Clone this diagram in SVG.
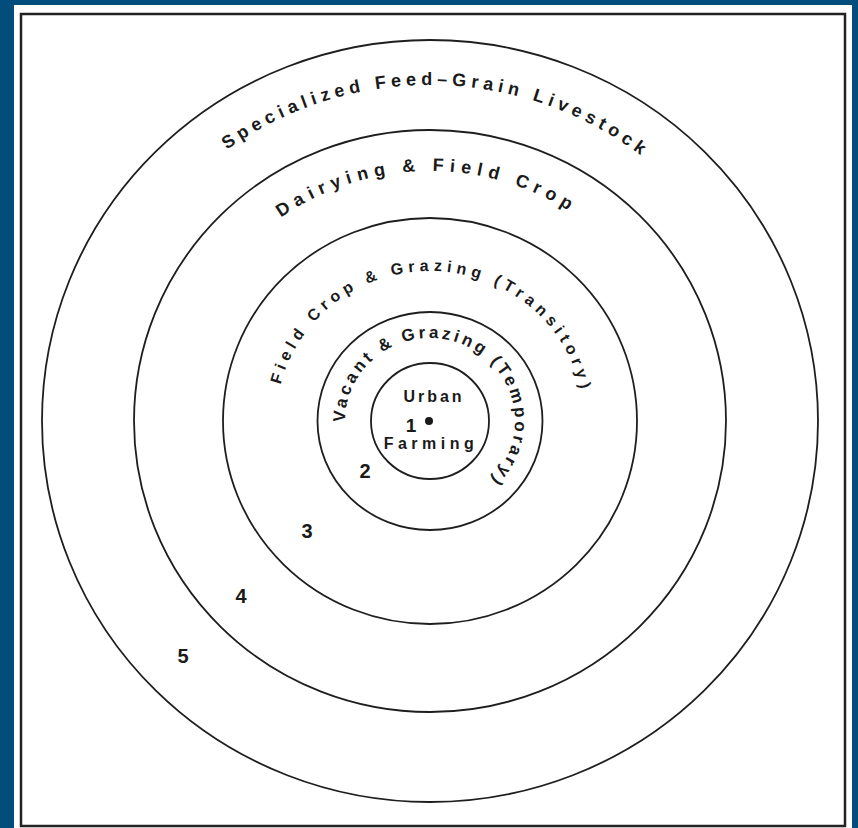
<svg xmlns="http://www.w3.org/2000/svg" xmlns:xlink="http://www.w3.org/1999/xlink" width="858" height="828" viewBox="0 0 858 828">
<style>
.ring{fill:none;stroke:#1e1e1e;stroke-width:1.8}
.lbl{font-family:"Liberation Sans",Arial,sans-serif;font-weight:bold;fill:#1a1a1a}
.num{font-family:"Liberation Sans",Arial,sans-serif;font-weight:bold;fill:#1a1a1a;font-size:20px;text-anchor:middle}
</style>
<defs>
<path id="arc5" d="M84.1,413.9 A346,340 0 0 1 775.9,428.1"/>
<path id="arc4" d="M174,424.5 A256,250 0 0 1 686,417.5"/>
<path id="arc3" d="M349,548.5 A154,150 0 1 1 502.9,553.1"/>
<path id="arc2" d="M362.6,471.5 A85,83 0 1 1 441.1,503.3"/>
</defs>
<rect x="0" y="0" width="858" height="828" fill="#034d7c"/>
<rect x="14" y="5" width="838" height="823" fill="#ffffff"/>
<rect id="frame" x="21" y="14" width="824" height="812" fill="none" stroke="#222" stroke-width="2.5"/>
<g id="zone5">
<ellipse class="ring" cx="430" cy="421" rx="388" ry="381"/>
<text class="lbl" font-size="18" letter-spacing="4.9"><textPath xlink:href="#arc5" href="#arc5" startOffset="50%" text-anchor="middle">Specialized Feed–Grain Livestock</textPath></text>
<text class="num" x="183" y="663">5</text>
</g>
<g id="zone4">
<ellipse class="ring" cx="430" cy="421" rx="296" ry="291"/>
<text class="lbl" font-size="18" letter-spacing="6"><textPath xlink:href="#arc4" href="#arc4" startOffset="50%" text-anchor="middle">Dairying &amp; Field Crop</textPath></text>
<text class="num" x="241" y="603">4</text>
</g>
<g id="zone3">
<ellipse class="ring" cx="430" cy="421" rx="207" ry="203"/>
<text class="lbl" font-size="16" letter-spacing="4.9"><textPath xlink:href="#arc3" href="#arc3" startOffset="50%" text-anchor="middle">Field Crop &amp; Grazing (Transitory)</textPath></text>
<text class="num" x="307" y="538">3</text>
</g>
<g id="zone2">
<ellipse class="ring" cx="430" cy="421" rx="112.5" ry="109"/>
<text class="lbl" font-size="17" letter-spacing="3.2"><textPath xlink:href="#arc2" href="#arc2" startOffset="50%" text-anchor="middle">Vacant &amp; Grazing (Temporary)</textPath></text>
<text class="num" x="365" y="478">2</text>
</g>
<g id="zone1">
<ellipse class="ring" cx="430" cy="421" rx="59" ry="58"/>
<text class="lbl" font-size="16" letter-spacing="3" x="434" y="402" text-anchor="middle">Urban</text>
<text class="lbl" font-size="19" x="411" y="432" text-anchor="middle">1</text>
<circle cx="429" cy="421" r="4" fill="#1a1a1a"/>
<text class="lbl" font-size="16" letter-spacing="4.5" x="431" y="449" text-anchor="middle">Farming</text>
</g>
</svg>
